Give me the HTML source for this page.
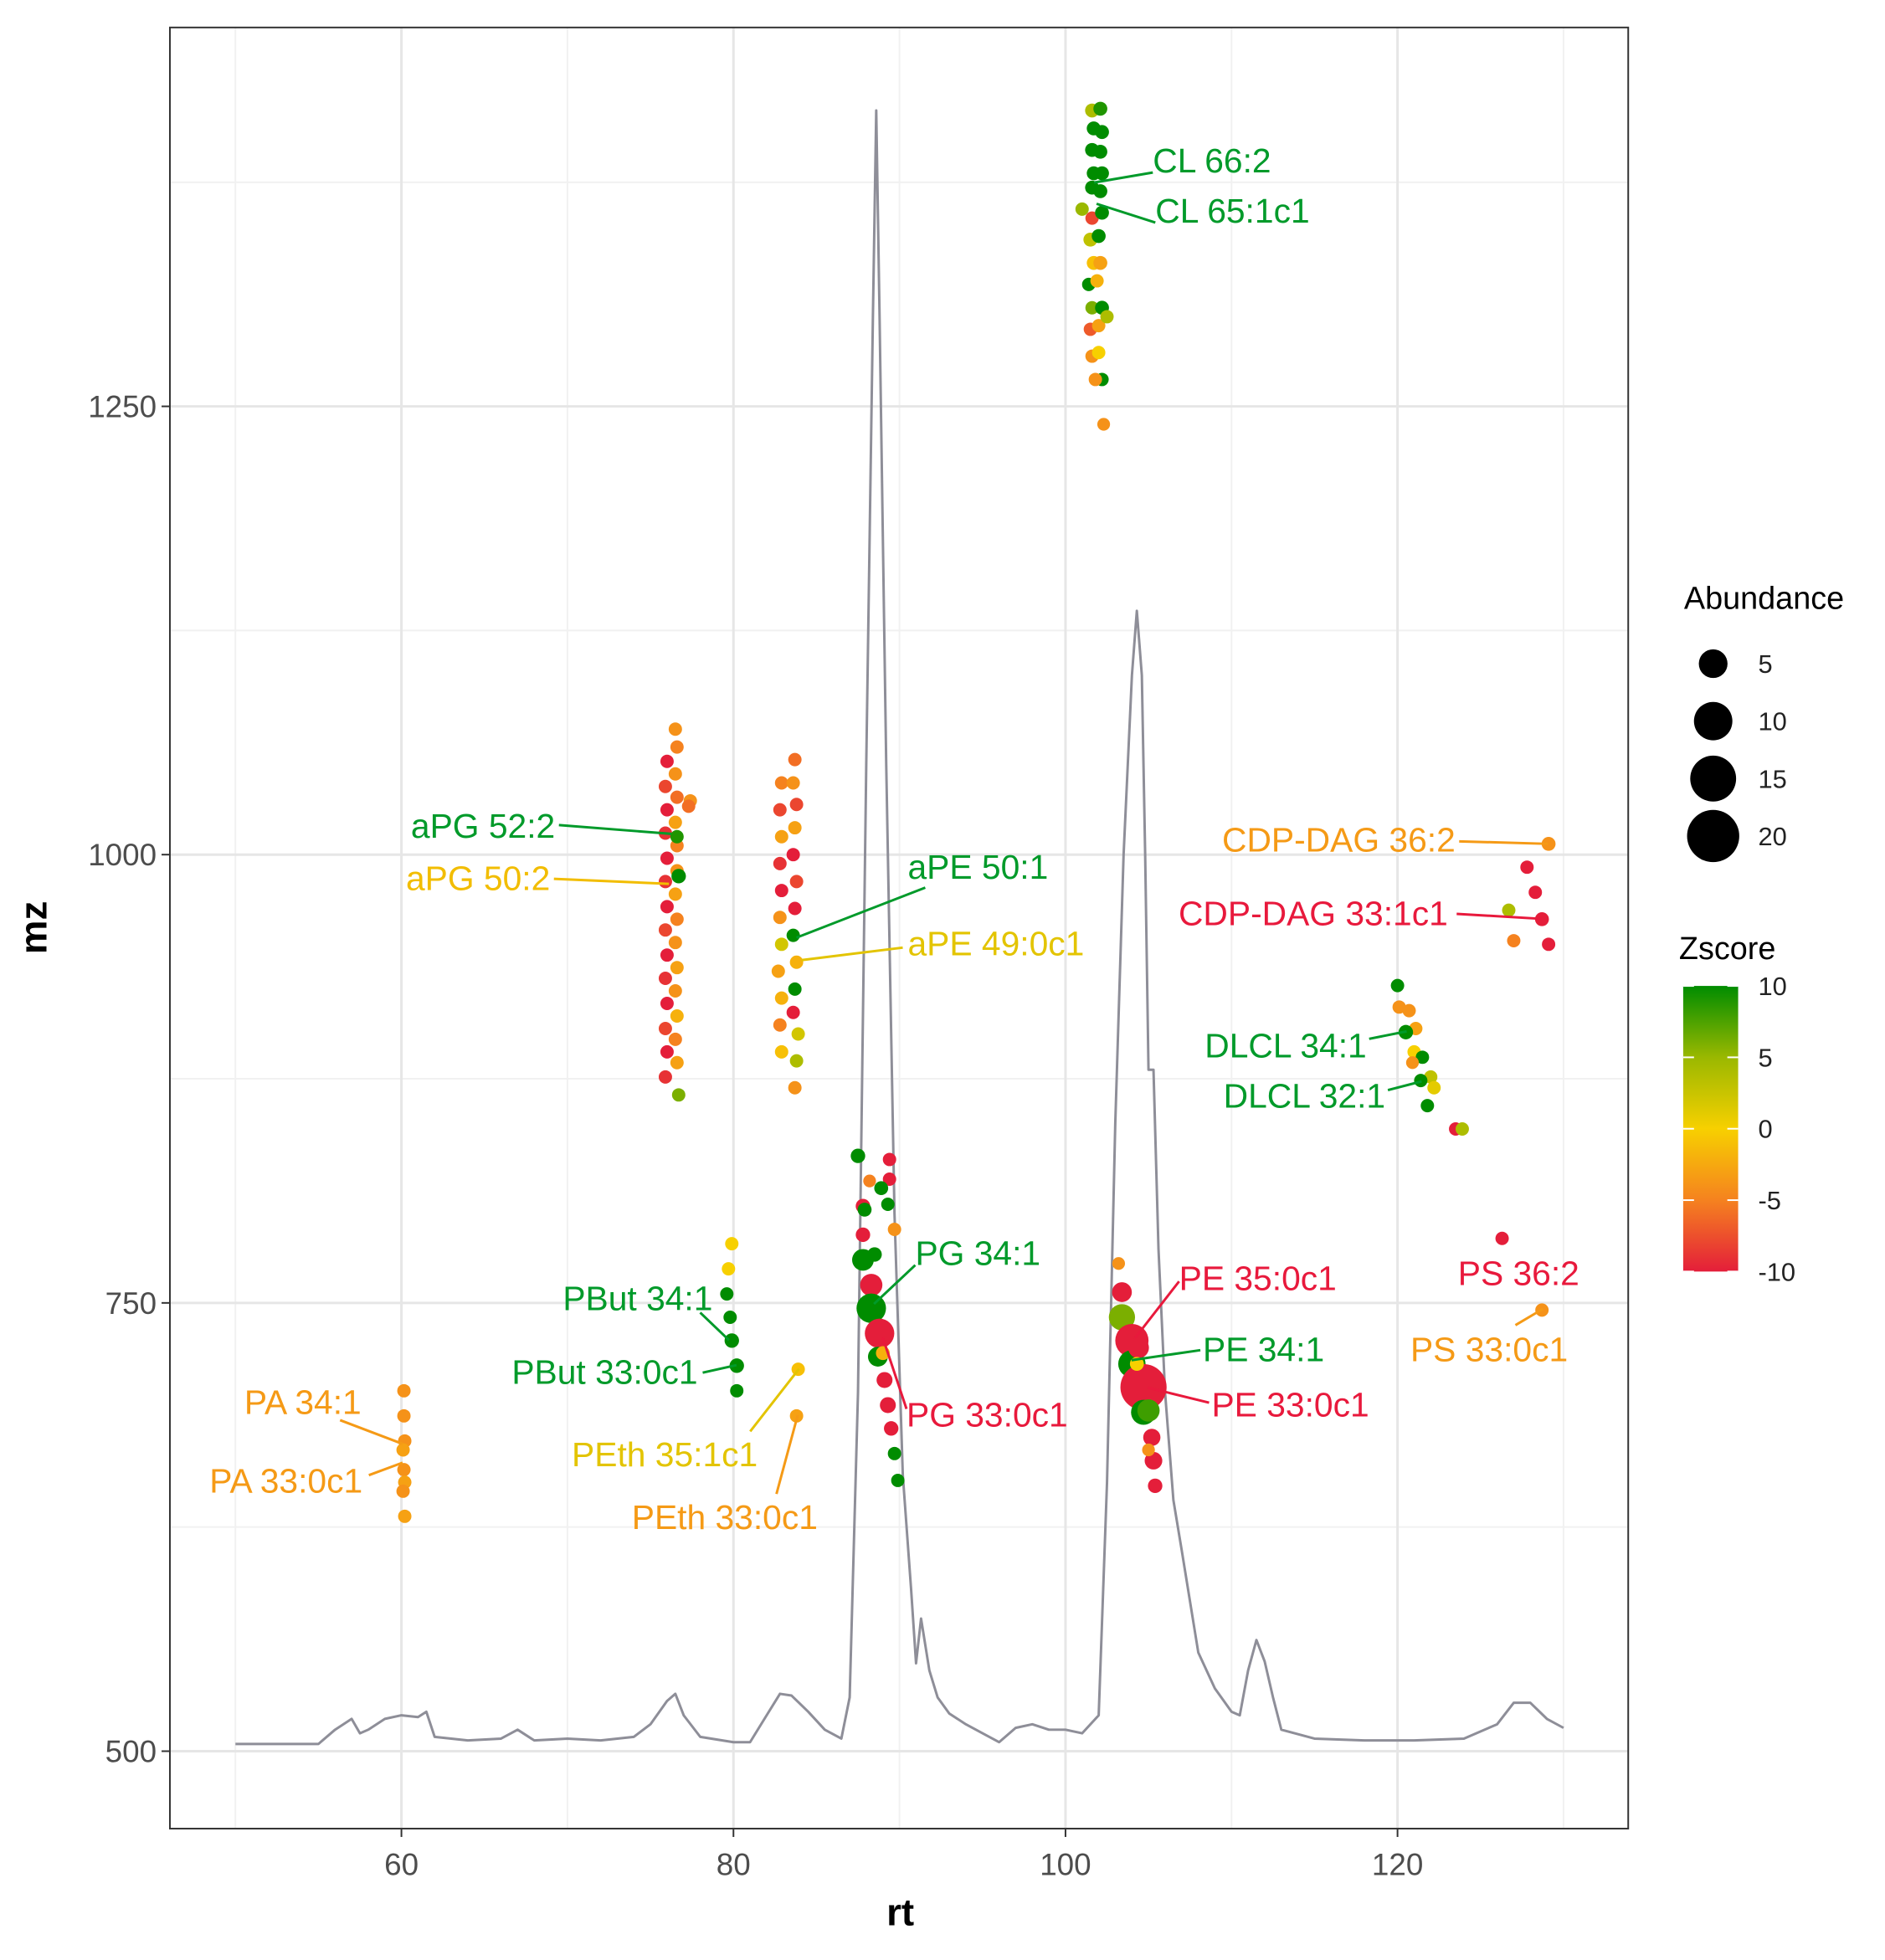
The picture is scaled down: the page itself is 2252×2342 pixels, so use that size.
<!DOCTYPE html>
<html><head><meta charset="utf-8"><style>
html,body{margin:0;padding:0;background:#fff;}
svg{display:block;font-family:"Liberation Sans",sans-serif;}
</style></head><body>
<svg width="2252" height="2342" viewBox="0 0 2252 2342" xmlns="http://www.w3.org/2000/svg"><g id="chart" transform="scale(0.995)"></g></svg>
<script>
// ---- data ----
const chromRt = [50,55,56,57,57.5,58,59,60,61,61.5,62,64,66,67,68,70,72,74,75,76,76.5,77,78,80,81,82,82.8,83.5,84.5,85.5,86.5,87,87.5,88,88.4,88.6,88.8,89.2,89.7,90.2,90.7,91,91.3,91.8,92.3,93,94,95,96,97,98,99,100,101,102,102.5,103,103.5,104,104.3,104.6,104.8,105,105.3,105.6,106,106.5,107,108,109,110,110.5,111,111.5,112,112.5,113,115,118,121,124,126,127,128,129,130];
const chromMz = [504,504,512,518,510,512,518,520,519,522,508,506,507,512,506,507,506,508,515,528,532,520,508,505,505,520,532,531,522,512,507,530,700,1050,1300,1415,1300,1050,800,654,590,549,574,545,530,521,515,510,505,513,515,512,512,510,520,650,850,1000,1100,1136,1100,1000,880,880,780,700,640,612,555,535,522,520,545,562,550,530,512,507,506,506,507,515,527,527,518,513];

const ptRt = [
 60.15,60.15,60.2,60.1,60.15,60.2,60.1,60.2,
 79.9,79.7,79.6,79.8,79.9,80.2,80.2,
 83.9,83.8,
 76.0,75.9,76.0,75.9,76.0,75.9,76.0,75.9,76.0,75.9,76.0,75.9,76.0,75.9,
 76.5,76.6,76.5,76.6,76.5,76.6,76.6,76.5,76.6,76.5,76.6,76.5,76.6,76.5,76.6,76.7,76.6,76.7,77.4,77.3,
 82.9,82.8,82.9,82.8,82.9,82.8,82.9,82.7,82.9,82.8,82.9,
 83.7,83.6,83.8,83.7,83.6,83.8,83.7,83.6,83.8,83.7,83.6,83.9,83.8,83.7,
 101.6,102.1,101.7,102.2,101.6,102.1,101.7,102.2,101.6,102.1,101.0,101.6,102.2,101.5,102.0,101.7,102.1,101.4,101.9,101.6,102.2,101.5,102.0,102.5,101.6,102.0,102.2,101.8,102.3,
 87.5,89.4,88.2,89.4,88.9,87.8,89.3,87.9,89.7,87.8,88.5,87.8,88.3,88.3,88.8,88.7,89.0,89.1,89.3,89.5,89.7,89.9,
 103.2,103.4,103.4,104.0,104.0,104.4,104.7,104.3,104.7,105.0,105.2,105.3,105.4,105.0,
 120.0,120.1,120.7,121.1,120.5,121.0,121.5,120.9,122.0,121.4,122.2,121.8,123.5,123.9,
 129.1,127.8,128.3,126.7,128.7,127.0,129.1,
 126.3,128.7
];
const ptMz = [
 701,687,673,668,657,650,645,631,
 783,769,755,742,729,715,701,
 713,687,
 1052,1038,1025,1012,998,985,971,958,944,931,917,903,890,876,
 1070,1060,1045,1032,1018,1005,991,978,964,951,937,924,910,897,884,866,1010,988,1030,1027,
 1040,1025,1010,995,980,965,950,935,920,905,890,
 1053,1040,1028,1015,1000,985,970,955,940,925,912,900,885,870,
 1415,1416,1405,1403,1393,1392,1380,1380,1372,1370,1360,1355,1358,1343,1345,1330,1330,1318,1320,1305,1305,1293,1295,1300,1278,1280,1265,1265,1240,
 832,830,818,819,814,804,805,802,791,788,777,774,760,747,733,720,722,707,693,680,666,651,
 772,756,742,729,716,725,703,716,689,690,675,662,648,668,
 927,915,913,903,901,890,887,884,876,874,870,860,847,847,
 1006,993,979,969,964,952,950,
 786,746
];
const ptZ = [
 -4,-4,-4,-3,-4,-3,-4,-3,
 0,0,10,10,10,10,10,
 -1,-3,
 -10,-8,-10,-9,-10,-9,-10,-8,-10,-9,-10,-8,-10,-9,
 -4,-5,-4,-6,-3,-5,-4,-3,-5,-4,-3,-4,-2,-5,-3,6,9,10,-4,-6,
 -5,-8,-3,-9,-10,-4,2,-3,-2,-5,-1,
 -6,-4,-8,-3,-10,-8,-10,10,-2,10,-10,2,4,-4,
 4,9,10,10,10,10,10,10,10,10,5,-8,10,3,10,-1,-3,10,-2,6,10,-7,-3,4,-4,0,10,-4,-4,
 10,-10,-5,-10,10,-10,10,10,-4,-10,10,10,-10,10,-10,10,-2,-10,-10,-10,10,10,
 -4,-10,6,-10,10,-10,-10,0,10,8,-10,-10,-10,-4,
 10,-4,-4,-3,10,0,10,-4,3,10,1,10,-10,4,
 -4,-10,-10,4,-10,-5,-10,
 -10,-4
];
const ptAb = [
 0.7,0.7,0.7,0.7,0.7,0.7,0.7,0.7,
 0.7,0.7,0.7,0.7,0.9,0.9,0.7,
 0.7,0.7,
 0.7,0.7,0.7,0.7,0.7,0.7,0.7,0.7,0.7,0.7,0.7,0.7,0.7,0.7,
 0.7,0.7,0.7,0.7,0.7,0.7,0.7,0.7,0.7,0.7,0.7,0.7,0.7,0.7,0.7,0.7,0.7,0.9,0.7,0.7,
 0.7,0.7,0.7,0.7,0.7,0.7,0.7,0.7,0.7,0.7,0.7,0.7,0.7,0.7,0.7,0.7,0.7,0.7,0.7,0.7,0.7,0.7,0.7,0.7,0.7,
 0.8,0.8,0.8,0.8,0.8,0.8,0.8,0.8,0.8,0.8,0.7,0.7,0.8,0.8,0.8,0.8,0.8,0.7,0.7,0.7,0.8,0.7,0.7,0.7,0.7,0.7,0.7,0.7,0.6,
 0.9,0.7,0.6,0.7,0.8,0.9,0.7,0.8,0.7,0.9,0.9,2.8,3.0,6.0,6.0,2.2,0.8,1.2,1.2,0.9,0.7,0.7,
 0.6,2.2,4.5,8.0,5.0,2.5,17.0,0.8,4.0,3.0,1.5,1.6,0.9,0.6,
 0.7,0.7,0.7,0.7,0.9,0.7,0.7,0.6,0.7,0.7,0.7,0.7,0.7,0.7,
 0.8,0.7,0.7,0.7,0.8,0.7,0.7,
 0.7,0.7
];
const xTicks = [60,80,100,120];
const xMinor = [50,70,90,110,130];
const yTicks = [500,750,1000,1250];
const yMinor = [625,875,1125,1375];
const sizeLegend = [5,10,15,20];
const zLegend = [10,5,0,-5,-10];

// ---- scales ----
const PL=204, PR=1955, PT=33, PB=2196;
const X0=60, X1=120, XP0=482, XP1=1678;
const Y0=500, Y1=1250, YP0=2103, YP1=488;
const sx = v => XP0 + (v-X0)*(XP1-XP0)/(X1-X0);
const sy = v => YP0 + (v-Y0)*(YP1-YP0)/(Y1-Y0);
const sr = a => 3 + 6*Math.sqrt(a);
const stops = [[-10,[228,30,58]],[-5,[245,130,31]],[0,[247,208,0]],[5,[154,184,0]],[10,[0,140,0]]];
function zcol(z){
 z=Math.max(-10,Math.min(10,z));
 for(let i=0;i<stops.length-1;i++){
  const [a,ca]=stops[i],[b,cb]=stops[i+1];
  if(z<=b){const t=(z-a)/(b-a);return 'rgb('+ca.map((c,k)=>Math.round(c+(cb[k]-c)*t)).join(',')+')';}
 }
 return 'rgb(0,140,0)';
}
const NS='http://www.w3.org/2000/svg';
const svg=document.getElementById('chart');
function mk(tag,attrs,parent){const e=document.createElementNS(NS,tag);for(const k in attrs)e.setAttribute(k,attrs[k]);(parent||svg).appendChild(e);return e;}

const panel=mk('rect',{x:PL,y:PT,width:PR-PL,height:PB-PT,fill:'#fff'});


const grid=mk('g',{});


xMinor.forEach(v=>mk('line',{x1:sx(v),x2:sx(v),y1:PT,y2:PB,stroke:'#f1f1f1','stroke-width':2},grid));
yMinor.forEach(v=>mk('line',{y1:sy(v),y2:sy(v),x1:PL,x2:PR,stroke:'#f1f1f1','stroke-width':2},grid));
xTicks.forEach(v=>mk('line',{x1:sx(v),x2:sx(v),y1:PT,y2:PB,stroke:'#e6e6e6','stroke-width':3},grid));
yTicks.forEach(v=>mk('line',{y1:sy(v),y2:sy(v),x1:PL,x2:PR,stroke:'#e6e6e6','stroke-width':3},grid));

let d='';
chromRt.forEach((r,i)=>{d+=(i?'L':'M')+sx(r).toFixed(1)+','+sy(chromMz[i]).toFixed(1);});
const chrom=mk('path',{d:d,fill:'none',stroke:'#8e8e98','stroke-width':3,'stroke-linejoin':'round'});



const pts=mk('g',{});


ptRt.forEach((r,i)=>{
 const c=mk('circle',{cx:sx(r),cy:sy(ptMz[i]),r:sr(ptAb[i]),fill:zcol(ptZ[i])},pts);
 
 
});

const G='#009a2a',R='#e8193c',O='#f59a16',Y='#f2bd00',YY='#e3c400';
const labels=[
 ['CL 66:2',G,922,138,'start',922,138,875,146],
 ['CL 65:1c1',G,924,178,'start',924,178,877,163],
 ['aPG 52:2',G,444,670,'end',447,660,537,667],
 ['aPG 50:2',Y,440,712,'end',443,703,535,707],
 ['aPE 50:1',G,726,703,'start',740,710,637,750],
 ['aPE 49:0c1',YY,726,764,'start',722,758,641,768],
 ['CDP-DAG 36:2',O,1164,681,'end',1167,673,1238,675],
 ['CDP-DAG 33:1c1',R,1158,740,'end',1165,731,1233,735],
 ['DLCL 34:1',G,1093,846,'end',1095,831,1125,825],
 ['DLCL 32:1',G,1108,886,'end',1110,872,1137,865],
 ['PS 36:2',R,1166,1028,'start',null],
 ['PS 33:0c1',O,1128,1089,'start',1212,1060,1234,1047],
 ['PG 34:1',G,732,1012,'start',732,1012,699,1043],
 ['PG 33:0c1',R,725,1141,'start',725,1127,706,1070],
 ['PE 35:0c1',R,943,1032,'start',943,1025,908,1070],
 ['PE 34:1',G,962,1089,'start',960,1080,905,1088],
 ['PE 33:0c1',R,969,1133,'start',967,1122,918,1110],
 ['PBut 34:1',G,570,1048,'end',560,1050,583,1072],
 ['PBut 33:0c1',G,558,1107,'end',562,1098,589,1092],
 ['PEth 35:1c1',YY,606,1173,'end',600,1145,639,1095],
 ['PEth 33:0c1',O,654,1223,'end',621,1195,638,1132],
 ['PA 34:1',O,289,1131,'end',272,1136,322,1155],
 ['PA 33:0c1',O,290,1194,'end',295,1180,322,1170]
];
const S=1.5013;
const lg=mk('g',{});


labels.forEach(l=>{
 if(l[5]!=null){
  const ln=mk('line',{x1:l[5]*S,y1:l[6]*S,x2:l[7]*S,y2:l[8]*S,stroke:l[1],'stroke-width':3},lg);
  
  
 }
 const t=mk('text',{x:l[2]*S,y:l[3]*S,'text-anchor':l[4],fill:l[1],'font-size':41},lg);
 t.textContent=l[0];
 
 
});

const bd=mk('rect',{x:PL,y:PT,width:PR-PL,height:PB-PT,fill:'none',stroke:'#333','stroke-width':2});



xTicks.forEach(v=>{
 mk('line',{x1:sx(v),x2:sx(v),y1:PB,y2:PB+10,stroke:'#333','stroke-width':2});
 const t=mk('text',{x:sx(v),y:2252,'text-anchor':'middle','font-size':37,fill:'#4d4d4d'});
 t.textContent=v;
 
 
});
yTicks.forEach(v=>{
 mk('line',{x1:PL-10,x2:PL,y1:sy(v),y2:sy(v),stroke:'#333','stroke-width':2});
 const t=mk('text',{x:PL-16,y:sy(v)+13,'text-anchor':'end','font-size':37,fill:'#4d4d4d'});
 t.textContent=v;
 
 
});
const xt=mk('text',{x:1081,y:2312,'text-anchor':'middle','font-size':46,'font-weight':'bold',fill:'#000'});
xt.textContent='rt';


const yt=mk('text',{x:56,y:1114,'text-anchor':'middle','font-size':46,'font-weight':'bold',fill:'#000',transform:'rotate(-90 56 1114)'});
yt.textContent='mz';



const sl=mk('g',{});


const st=mk('text',{x:2022,y:731,'font-size':38,fill:'#000'},sl);
st.textContent='Abundance';
const slY=[797,866,935,1004];
sizeLegend.forEach((a,i)=>{
 const c=mk('circle',{cx:2057,cy:slY[i],r:sr(a)*1.05,fill:'#000'},sl);
 
 
 const t=mk('text',{x:2111,y:slY[i]+11,'font-size':31,fill:'#222'},sl);
 t.textContent=a;
});

const cl=mk('g',{});


const ct=mk('text',{x:2016,y:1152,'font-size':38,fill:'#000'},cl);
ct.textContent='Zscore';
const defs=mk('defs',{});
const gr=mk('linearGradient',{id:'zg',x1:0,y1:0,x2:0,y2:1},defs);
[10,5,0,-5,-10].forEach((z,i)=>mk('stop',{offset:(i*25)+'%','stop-color':zcol(z)},gr));
const bar=mk('rect',{x:2021,y:1184,width:66,height:343,fill:'url(#zg)'},cl);


zLegend.forEach(z=>{
 const yy=1184+(10-z)/20*343;
 mk('line',{x1:2021,x2:2034,y1:yy,y2:yy,stroke:'#fff','stroke-width':2},cl);
 mk('line',{x1:2074,x2:2087,y1:yy,y2:yy,stroke:'#fff','stroke-width':2},cl);
 const t=mk('text',{x:2111,y:yy+11,'font-size':31,fill:'#222'},cl);
 t.textContent=z;
});
</script>
</body></html>
